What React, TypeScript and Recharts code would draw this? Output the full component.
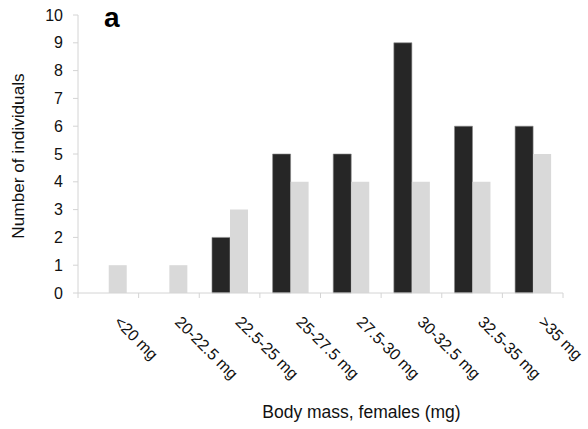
import React from "react";
import { BarChart, Bar, XAxis, YAxis } from "recharts";

const categories = [
  "<20 mg",
  "20-22.5 mg",
  "22.5-25 mg",
  "25-27.5 mg",
  "27.5-30 mg",
  "30-32.5 mg",
  "32.5-35 mg",
  ">35 mg",
];
const darkValues = [0, 0, 2, 5, 5, 9, 6, 6];
const lightValues = [1, 1, 3, 4, 4, 4, 4, 5];
const yTicks = [0, 1, 2, 3, 4, 5, 6, 7, 8, 9, 10];

const WIDTH = 588;
const HEIGHT = 429;
const MARGIN = { top: 15, right: 25, bottom: 16, left: 38 };
const Y_AXIS_WIDTH = 40;
const PLOT_WIDTH = WIDTH - MARGIN.left - MARGIN.right - Y_AXIS_WIDTH;
const BAND = PLOT_WIDTH / categories.length;

const AXIS_COLOR = "#d4d4d4";
const FONT = "'Liberation Sans', Arial, sans-serif";

const data = categories.map((name, i) => ({
  name,
  dark: darkValues[i],
  light: lightValues[i],
}));

// eslint-disable-next-line @typescript-eslint/no-explicit-any
const CategoryTick = (props: any) => {
  const { x, y, payload, index } = props;
  const left = x - BAND / 2;
  const right = x + BAND / 2;
  const tx = x + 5;
  const ty = y + 30;
  return (
    <g>
      <line x1={left} y1={y} x2={left} y2={y + 5} stroke={AXIS_COLOR} />
      {index === categories.length - 1 && (
        <line x1={right} y1={y} x2={right} y2={y + 5} stroke={AXIS_COLOR} />
      )}
      <text
        x={tx}
        y={ty}
        transform={`rotate(45, ${tx}, ${ty})`}
        textAnchor="start"
        fontSize={16}
        fontFamily={FONT}
        fill="#111"
      >
        {payload.value}
      </text>
    </g>
  );
};

// eslint-disable-next-line @typescript-eslint/no-explicit-any
const XTitle = (props: any) => {
  const { viewBox } = props;
  const cx = viewBox.x + viewBox.width / 2 + 41;
  return (
    <text
      x={cx}
      y={418}
      textAnchor="middle"
      fontSize={17.5}
      fontFamily={FONT}
      fill="#111"
    >
      Body mass, females (mg)
    </text>
  );
};

// eslint-disable-next-line @typescript-eslint/no-explicit-any
const YTitle = (props: any) => {
  const { viewBox } = props;
  const cy = viewBox.y + viewBox.height / 2 + 2;
  const bx = 24;
  return (
    <text
      x={bx}
      y={cy}
      transform={`rotate(-90, ${bx}, ${cy})`}
      textAnchor="middle"
      fontSize={17.2}
      fontFamily={FONT}
      fill="#111"
    >
      Number of individuals
    </text>
  );
};

export default function App() {
  return (
    <div
      style={{
        position: "absolute",
        left: 0,
        top: 0,
        width: WIDTH,
        height: HEIGHT,
        background: "#fff",
      }}
    >
      <BarChart
        width={WIDTH}
        height={HEIGHT}
        data={data}
        margin={MARGIN}
        barCategoryGap="21%"
        barGap={0}
      >
        <XAxis
          dataKey="name"
          interval={0}
          height={120}
          tickLine={false}
          tickSize={0}
          tickMargin={0}
          stroke={AXIS_COLOR}
          tick={<CategoryTick />}
          label={{ content: <XTitle /> }}
        />
        <YAxis
          width={Y_AXIS_WIDTH}
          domain={[0, 10]}
          ticks={yTicks}
          interval={0}
          allowDecimals={false}
          tickSize={5}
          tickMargin={10}
          stroke={AXIS_COLOR}
          tick={{ fill: "#111", fontSize: 16, fontFamily: FONT }}
          label={{ content: <YTitle /> }}
        />
        <Bar
          dataKey="dark"
          fill="#262626"
          stroke="#8a8a8a"
          strokeWidth={0.6}
          isAnimationActive={false}
        />
        <Bar dataKey="light" fill="#d9d9d9" isAnimationActive={false} />
        <text
          x={104}
          y={27}
          fontSize={28}
          fontWeight="bold"
          fontFamily={FONT}
          fill="#000"
        >
          a
        </text>
      </BarChart>
    </div>
  );
}
